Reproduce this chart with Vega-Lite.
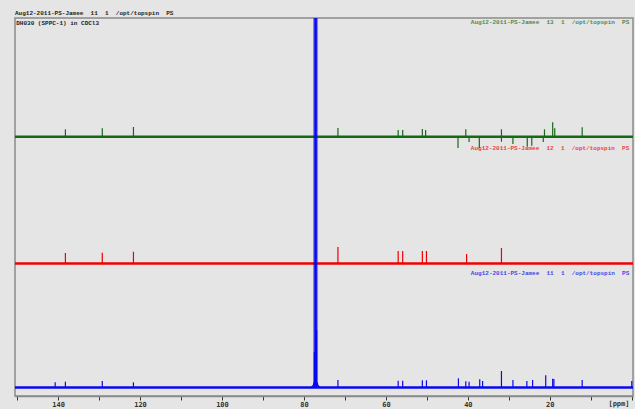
{
  "$schema": "https://vega.github.io/schema/vega-lite/v6.json",
  "autosize": {"type": "none"},
  "width": 618,
  "height": 378,
  "padding": {"left": 15, "top": 18, "right": 2, "bottom": 13},
  "background": "#e5e5e5",
  "config": {
    "view": {"stroke": "#8a8a8a", "strokeWidth": 1.5, "fill": "#e5e5e5"},
    "title": {"font": "Liberation Mono", "fontWeight": "bold", "fontSize": 6, "color": "#222222"}
  },
  "title": {"text": "Aug12-2011-PS-Jamee\u00a0\u00a011\u00a0\u00a01\u00a0\u00a0/opt/topspin\u00a0\u00a0PS", "anchor": "start", "frame": "group", "offset": 2},
  "datasets": {
    "baselines": [
      {"expno": "13", "from": 150.5, "to": -0.3, "amp": 259.2},
      {"expno": "12", "from": 150.5, "to": -0.3, "amp": 132.5},
      {"expno": "11", "from": 150.5, "to": -0.3, "amp": 8.5}
    ],
    "peaks": [
      {"expno": "13", "ppm": 138.2, "base": 259.2, "amp": 266.7},
      {"expno": "13", "ppm": 129.2, "base": 259.2, "amp": 267.7},
      {"expno": "13", "ppm": 121.6, "base": 259.2, "amp": 269},
      {"expno": "13", "ppm": 71.7, "base": 259.2, "amp": 268},
      {"expno": "13", "ppm": 57.0, "base": 259.2, "amp": 266},
      {"expno": "13", "ppm": 55.9, "base": 259.2, "amp": 266},
      {"expno": "13", "ppm": 51.1, "base": 259.2, "amp": 267},
      {"expno": "13", "ppm": 50.3, "base": 259.2, "amp": 266},
      {"expno": "13", "ppm": 42.4, "base": 259.2, "amp": 248},
      {"expno": "13", "ppm": 40.5, "base": 259.2, "amp": 266.7},
      {"expno": "13", "ppm": 39.7, "base": 259.2, "amp": 254},
      {"expno": "13", "ppm": 37.2, "base": 259.2, "amp": 247.7},
      {"expno": "13", "ppm": 31.8, "base": 259.2, "amp": 266.7},
      {"expno": "13", "ppm": 31.8, "base": 259.2, "amp": 254.3},
      {"expno": "13", "ppm": 29.0, "base": 259.2, "amp": 252},
      {"expno": "13", "ppm": 25.5, "base": 259.2, "amp": 249.3},
      {"expno": "13", "ppm": 24.4, "base": 259.2, "amp": 250.3},
      {"expno": "13", "ppm": 21.6, "base": 259.2, "amp": 254},
      {"expno": "13", "ppm": 21.3, "base": 259.2, "amp": 266.7},
      {"expno": "13", "ppm": 19.3, "base": 259.2, "amp": 273.7},
      {"expno": "13", "ppm": 18.8, "base": 259.2, "amp": 267.7},
      {"expno": "13", "ppm": 12.1, "base": 259.2, "amp": 268.7},
      {"expno": "12", "ppm": 138.2, "base": 132.5, "amp": 143},
      {"expno": "12", "ppm": 129.2, "base": 132.5, "amp": 143.3},
      {"expno": "12", "ppm": 121.6, "base": 132.5, "amp": 144.3},
      {"expno": "12", "ppm": 71.7, "base": 132.5, "amp": 149},
      {"expno": "12", "ppm": 57.0, "base": 132.5, "amp": 145},
      {"expno": "12", "ppm": 55.9, "base": 132.5, "amp": 145},
      {"expno": "12", "ppm": 51.1, "base": 132.5, "amp": 145},
      {"expno": "12", "ppm": 50.1, "base": 132.5, "amp": 145},
      {"expno": "12", "ppm": 40.3, "base": 132.5, "amp": 142},
      {"expno": "12", "ppm": 31.8, "base": 132.5, "amp": 148},
      {"expno": "11", "ppm": 140.7, "base": 8.5, "amp": 13.7},
      {"expno": "11", "ppm": 138.2, "base": 8.5, "amp": 14.3},
      {"expno": "11", "ppm": 129.2, "base": 8.5, "amp": 15},
      {"expno": "11", "ppm": 121.6, "base": 8.5, "amp": 13.7},
      {"expno": "11", "ppm": 77.45, "base": 8.5, "amp": 44},
      {"expno": "11", "ppm": 76.9, "base": 8.5, "amp": 66},
      {"expno": "11", "ppm": 71.7, "base": 8.5, "amp": 16},
      {"expno": "11", "ppm": 57.0, "base": 8.5, "amp": 15.3},
      {"expno": "11", "ppm": 55.9, "base": 8.5, "amp": 15.3},
      {"expno": "11", "ppm": 51.1, "base": 8.5, "amp": 15.7},
      {"expno": "11", "ppm": 50.1, "base": 8.5, "amp": 15.7},
      {"expno": "11", "ppm": 42.3, "base": 8.5, "amp": 17.7},
      {"expno": "11", "ppm": 40.5, "base": 8.5, "amp": 14.7},
      {"expno": "11", "ppm": 39.7, "base": 8.5, "amp": 14.3},
      {"expno": "11", "ppm": 37.1, "base": 8.5, "amp": 16.7},
      {"expno": "11", "ppm": 36.4, "base": 8.5, "amp": 15},
      {"expno": "11", "ppm": 31.8, "base": 8.5, "amp": 25},
      {"expno": "11", "ppm": 29.0, "base": 8.5, "amp": 16},
      {"expno": "11", "ppm": 25.6, "base": 8.5, "amp": 15},
      {"expno": "11", "ppm": 24.2, "base": 8.5, "amp": 16},
      {"expno": "11", "ppm": 21.0, "base": 8.5, "amp": 20.7},
      {"expno": "11", "ppm": 19.3, "base": 8.5, "amp": 17.3},
      {"expno": "11", "ppm": 19.0, "base": 8.5, "amp": 17},
      {"expno": "11", "ppm": 12.1, "base": 8.5, "amp": 16},
      {"expno": "11", "ppm": 0.0, "base": 8.5, "amp": 15}
    ],
    "solvent": [
      {"expno": "11", "ppm": 77.16, "base": 8.5, "amp": 1000}
    ],
    "hump": [
      {"expno": "11", "ppm": 78.2, "amp": 8.5},
      {"expno": "11", "ppm": 77.7, "amp": 10.5},
      {"expno": "11", "ppm": 77.4, "amp": 14},
      {"expno": "11", "ppm": 77.16, "amp": 16},
      {"expno": "11", "ppm": 76.9, "amp": 14},
      {"expno": "11", "ppm": 76.6, "amp": 10.5},
      {"expno": "11", "ppm": 76.1, "amp": 8.5}
    ],
    "labels": [
      {"expno": "13", "ppm": 0.6, "amp": 374, "label": "Aug12-2011-PS-Jamee\u00a0\u00a013\u00a0\u00a01\u00a0\u00a0/opt/topspin\u00a0\u00a0PS"},
      {"expno": "12", "ppm": 0.6, "amp": 248, "label": "Aug12-2011-PS-Jamee\u00a0\u00a012\u00a0\u00a01\u00a0\u00a0/opt/topspin\u00a0\u00a0PS"},
      {"expno": "11", "ppm": 0.6, "amp": 123, "label": "Aug12-2011-PS-Jamee\u00a0\u00a011\u00a0\u00a01\u00a0\u00a0/opt/topspin\u00a0\u00a0PS"}
    ],
    "note": [
      {"ppm": 150.2, "amp": 373, "label": "DH030 (SPPC-1) in CDCl3"}
    ]
  },
  "encoding": {},
  "layer": [
    {
      "data": {"name": "baselines"},
      "mark": {"type": "rule", "strokeWidth": 2.6},
      "encoding": {
        "x": {"field": "from", "type": "quantitative", "scale": {"domain": [-0.3, 150.5], "reverse": true, "nice": false, "zero": false},
          "axis": {"values": [0,5,10,15,20,25,30,35,40,45,50,55,60,65,70,75,80,85,90,95,100,105,110,115,120,125,130,135,140,145,150],
            "labelExpr": "datum.value % 20 == 0 && datum.value > 0 ? datum.label : ''",
            "grid": false, "tickSize": 4, "tickColor": "#333333", "domainColor": "#8a8a8a", "domainWidth": 1.5,
            "labelFont": "DejaVu Sans Mono", "labelFontWeight": "bold", "labelFontSize": 7, "labelColor": "#333333", "labelPadding": 0,
            "title": "[ppm]", "titleFont": "DejaVu Sans Mono", "titleFontWeight": "bold", "titleFontSize": 7, "titleColor": "#333333",
            "titleAnchor": "end", "titleAlign": "right", "titleX": 614, "titleY": 7.5, "titleBaseline": "middle"}},
        "x2": {"field": "to"},
        "y": {"field": "amp", "type": "quantitative", "scale": {"domain": [0, 378], "nice": false, "zero": false}, "axis": null},
        "color": {"field": "expno", "type": "nominal", "scale": {"domain": ["13", "12", "11"], "range": ["#156b15", "#f00000", "#0808ee"]}, "legend": null}
      }
    },
    {
      "data": {"name": "peaks"},
      "mark": {"type": "rule", "strokeWidth": 1.2, "clip": true},
      "encoding": {
        "x": {"field": "ppm", "type": "quantitative"},
        "y": {"field": "base", "type": "quantitative"},
        "y2": {"field": "amp"},
        "color": {"field": "expno", "type": "nominal", "legend": null}
      }
    },
    {
      "data": {"name": "solvent"},
      "mark": {"type": "rule", "strokeWidth": 5, "opacity": 0.45, "clip": true},
      "encoding": {
        "x": {"field": "ppm", "type": "quantitative"},
        "y": {"field": "base", "type": "quantitative"},
        "y2": {"field": "amp"},
        "color": {"field": "expno", "type": "nominal", "legend": null}
      }
    },
    {
      "data": {"name": "solvent"},
      "mark": {"type": "rule", "strokeWidth": 2.5, "clip": true},
      "encoding": {
        "x": {"field": "ppm", "type": "quantitative"},
        "y": {"field": "base", "type": "quantitative"},
        "y2": {"field": "amp"},
        "color": {"field": "expno", "type": "nominal", "legend": null}
      }
    },
    {
      "data": {"name": "hump"},
      "mark": {"type": "line", "strokeWidth": 1.5},
      "encoding": {
        "x": {"field": "ppm", "type": "quantitative"},
        "y": {"field": "amp", "type": "quantitative"},
        "color": {"field": "expno", "type": "nominal", "legend": null}
      }
    },
    {
      "data": {"name": "labels"},
      "mark": {"type": "text", "align": "right", "baseline": "middle", "font": "Liberation Mono", "fontWeight": "bold", "fontSize": 6, "opacity": 0.75},
      "encoding": {
        "x": {"field": "ppm", "type": "quantitative"},
        "y": {"field": "amp", "type": "quantitative"},
        "text": {"field": "label"},
        "color": {"field": "expno", "type": "nominal", "legend": null}
      }
    },
    {
      "data": {"name": "note"},
      "mark": {"type": "text", "align": "left", "baseline": "middle", "font": "Liberation Mono", "fontWeight": "bold", "fontSize": 6, "color": "#222222"},
      "encoding": {
        "x": {"field": "ppm", "type": "quantitative"},
        "y": {"field": "amp", "type": "quantitative"},
        "text": {"field": "label"}
      }
    }
  ]
}
